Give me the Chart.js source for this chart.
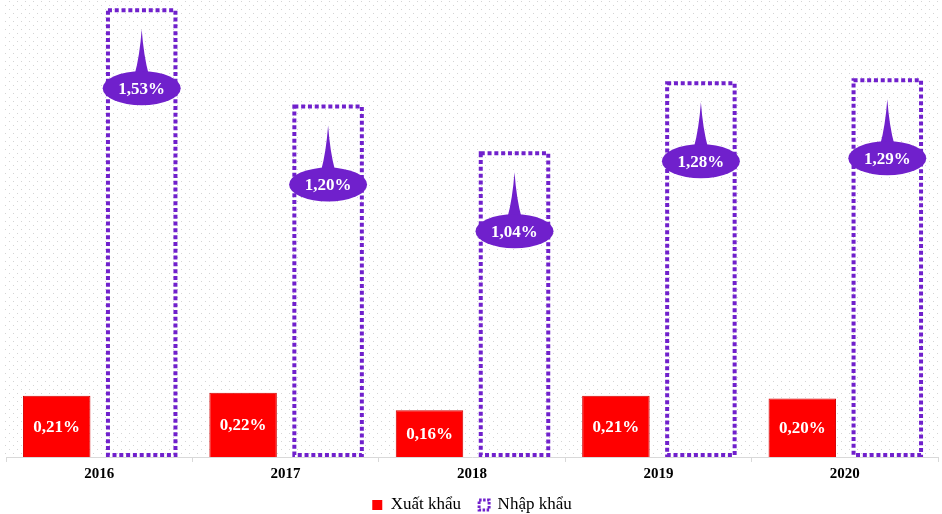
<!DOCTYPE html>
<html>
<head>
<meta charset="utf-8">
<script src="https://cdn.jsdelivr.net/npm/chart.js@4.4.1/dist/chart.umd.min.js"></script>
<style>
  html, body { margin: 0; padding: 0; background: #fff; }
  #wrap { width: 942px; height: 514px; }
</style>
</head>
<body>
<div id="wrap"><canvas id="myChart"></canvas></div>
<script>
// số liệu
const years = ["2016", "2017", "2018", "2019", "2020"];
const xuatKhau = [0.21, 0.22, 0.16, 0.21, 0.20];
const nhapKhau = [1.53, 1.20, 1.04, 1.28, 1.29];

const RED = "#FF0000";
const PURPLE = "#7020CC";
const SERIF = "'Liberation Serif', 'Times New Roman', serif";

Chart.defaults.font.family = SERIF;

function pct(v) {
  return v.toFixed(2).replace(".", ",") + "%";
}

// nền chấm mờ phía sau vùng biểu đồ
function dotPattern(ctx) {
  const c = document.createElement("canvas");
  c.width = 8;
  c.height = 8;
  const g = c.getContext("2d");
  g.fillStyle = "rgba(0,0,0,0.17)";
  g.fillRect(1, 1, 1, 1);
  g.fillRect(5, 5, 1, 1);
  return ctx.createPattern(c, "repeat");
}

const bgPlugin = {
  id: "dotBg",
  beforeDraw(chart) {
    const { ctx, chartArea } = chart;
    ctx.save();
    ctx.fillStyle = dotPattern(ctx);
    ctx.fillRect(2, chartArea.top, chart.width - 4, chartArea.bottom - chartArea.top);
    ctx.restore();
  },
};

// viền chấm cho cột nhập khẩu + nhãn giá trị
const markPlugin = {
  id: "marks",
  afterDatasetsDraw(chart) {
    const ctx = chart.ctx;

    // cột xuất khẩu: nhãn trắng giữa cột
    chart.getDatasetMeta(0).data.forEach((bar, i) => {
      const p = bar.getProps(["x", "y", "base"], true);
      ctx.save();
      ctx.fillStyle = "#fff";
      ctx.font = "bold 17px " + SERIF;
      ctx.textAlign = "center";
      ctx.textBaseline = "middle";
      ctx.fillText(pct(xuatKhau[i]), p.x, (p.y + p.base) / 2 + 1);
      ctx.restore();
    });

    // cột nhập khẩu
    chart.getDatasetMeta(1).data.forEach((bar, i) => {
      const p = bar.getProps(["x", "y", "base", "width"], true);
      const left = p.x - p.width / 2;
      ctx.save();
      ctx.strokeStyle = PURPLE;
      ctx.lineWidth = 4;
      ctx.setLineDash([4, 2.8]);
      ctx.strokeRect(left, p.y, p.width, p.base - 2 - p.y);
      ctx.setLineDash([]);

      // hình elip có mũi nhọn
      const cy = p.y + 78;
      const rx = 39, ry = 17;
      const tipY = p.y + 19;
      ctx.fillStyle = PURPLE;
      ctx.beginPath();
      ctx.moveTo(p.x - 7, cy - ry + 3);
      ctx.quadraticCurveTo(p.x - 2, cy - ry - 15, p.x, tipY);
      ctx.quadraticCurveTo(p.x + 2, cy - ry - 15, p.x + 7, cy - ry + 3);
      ctx.closePath();
      ctx.fill();
      ctx.beginPath();
      ctx.ellipse(p.x, cy, rx, ry, 0, 0, Math.PI * 2);
      ctx.fill();

      ctx.fillStyle = "#fff";
      ctx.font = "bold 17px " + SERIF;
      ctx.textAlign = "center";
      ctx.textBaseline = "middle";
      ctx.fillText(pct(nhapKhau[i]), p.x, cy + 1);
      ctx.restore();
    });
  },
};

const data = {
  labels: years,
  datasets: [
    {
      label: "Xuất khẩu",
      data: xuatKhau,
      backgroundColor: RED,
      borderColor: "#D40000",
      borderWidth: 1,
      categoryPercentage: 0.912,
      barPercentage: 0.794,
    },
    {
      label: "Nhập khẩu",
      data: nhapKhau,
      backgroundColor: "rgba(0,0,0,0)",
      borderWidth: 0,
      categoryPercentage: 0.912,
      barPercentage: 0.794,
    },
  ],
};

const config = {
  type: "bar",
  data: data,
  options: {
    responsive: true,
    maintainAspectRatio: false,
    animation: false,
    layout: { padding: { left: 6, right: 4, top: 0, bottom: -9.5 } },
    scales: {
      x: {
        grid: {
          display: true,
          drawOnChartArea: false,
          drawTicks: true,
          tickLength: 5,
          color: "#D9D9D9",
          offset: true,
        },
        border: { display: true, color: "#D9D9D9" },
        ticks: {
          color: "#000",
          font: { size: 15, weight: "bold", family: SERIF },
          padding: 3,
        },
        afterFit(scale) {
          scale.height = 21.5;
        },
      },
      y: {
        display: false,
        min: 0,
        max: 1.565,
      },
    },
    plugins: {
      tooltip: { enabled: false },
      legend: {
        position: "bottom",
        labels: {
          color: "#000",
          font: { size: 17, family: SERIF },
          boxWidth: 10,
          boxHeight: 10,
          padding: 18,
          generateLabels() {
            return [
              { text: "Xuất khẩu", fillStyle: RED, strokeStyle: RED, lineWidth: 0, datasetIndex: 0 },
              { text: "Nhập khẩu", fillStyle: "rgba(0,0,0,0)", strokeStyle: PURPLE, lineWidth: 3, lineDash: [2.5, 1.5], datasetIndex: 1 },
            ];
          },
        },
      },
    },
  },
  plugins: [bgPlugin, markPlugin],
};

const myChart = new Chart(document.getElementById("myChart"), config);
</script>
</body>
</html>
